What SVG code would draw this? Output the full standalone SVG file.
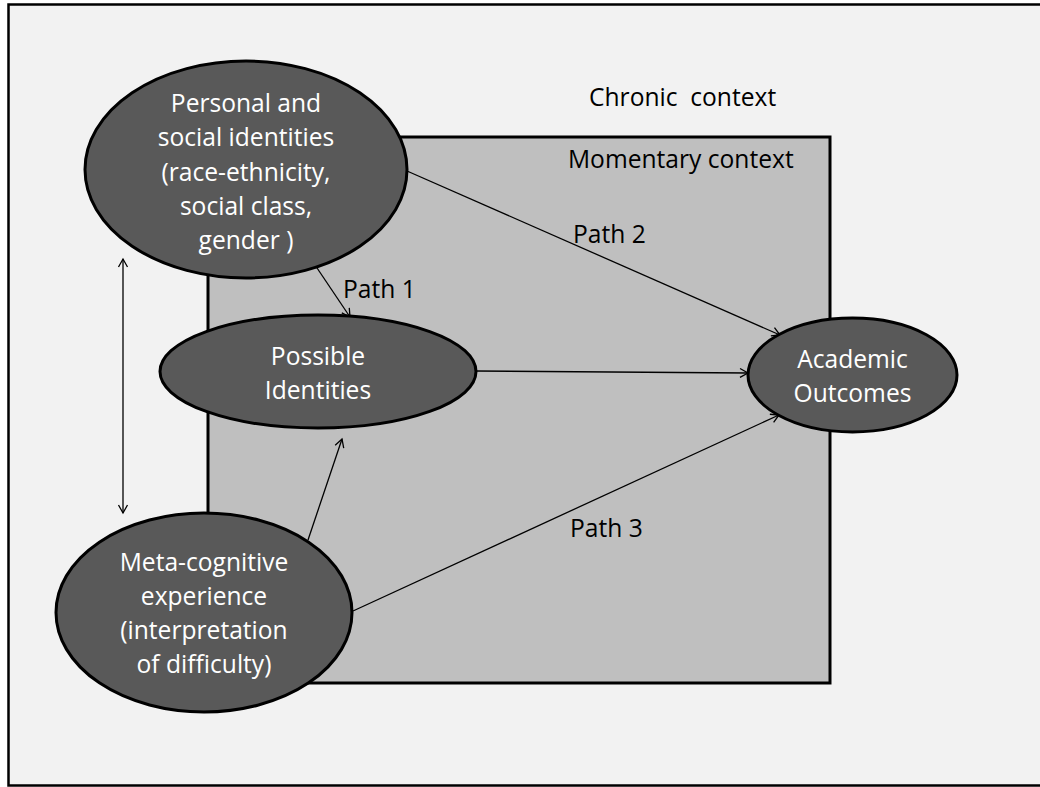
<svg xmlns="http://www.w3.org/2000/svg" width="1040" height="787" viewBox="0 0 1040 787">
  <defs>
    <marker id="arrow" viewBox="0 0 12 12" refX="10" refY="6" markerWidth="12" markerHeight="12" markerUnits="userSpaceOnUse" orient="auto-start-reverse">
      <path d="M2,1.5 L10,6 L2,10.5" fill="none" stroke="#000" stroke-width="1.3" stroke-linejoin="miter"/>
    </marker>
    <style>
      .label { font-family: "Open Sans", "Liberation Sans", sans-serif; font-size: 24.6px; fill: #000; }
      .node-shape { fill: #595959; stroke: #000; stroke-width: 3; }
      .node-text { font-family: "Open Sans", "Liberation Sans", sans-serif; font-size: 24.6px; fill: #fff; text-anchor: middle; }
      .edge { fill: none; stroke: #000; stroke-width: 1.3; marker-end: url(#arrow); }
    </style>
  </defs>

  <!-- page and outer (chronic) frame -->
  <rect x="0" y="0" width="1040" height="787" fill="#ffffff"/>
  <rect x="8.5" y="4.5" width="1040" height="781" fill="#f2f2f2" stroke="#000" stroke-width="2.5"/>
  <text class="label" x="589" y="106" xml:space="preserve">Chronic  context</text>

  <!-- momentary context box -->
  <rect id="momentary-context" x="208" y="137" width="622" height="546" fill="#bfbfbf" stroke="#000" stroke-width="3"/>
  <text class="label" x="568" y="168">Momentary context</text>

  <!-- connectors -->
  <g id="connectors">
    <line class="edge" x1="407" y1="171" x2="780" y2="335"/>
    <line class="edge" x1="313" y1="262" x2="350" y2="317"/>
    <line class="edge" x1="476" y1="371" x2="748" y2="373"/>
    <line class="edge" x1="308" y1="540" x2="342" y2="439"/>
    <line class="edge" x1="353" y1="611" x2="779" y2="415"/>
    <line class="edge" x1="123" y1="513" x2="123" y2="259" style="marker-start: url(#arrow);"/>
    <text class="label" x="573" y="243">Path 2</text>
    <text class="label" x="343" y="298">Path 1</text>
    <text class="label" x="570" y="537">Path 3</text>
  </g>

  <!-- nodes -->
  <g id="personal-social-identities">
    <ellipse class="node-shape" cx="246" cy="169.5" rx="161" ry="108.5"/>
    <text class="node-text" x="246" y="112">Personal and</text>
    <text class="node-text" x="246" y="146">social identities</text>
    <text class="node-text" x="246" y="180.5">(race-ethnicity,</text>
    <text class="node-text" x="246" y="214.5">social class,</text>
    <text class="node-text" x="246" y="249" xml:space="preserve">gender )</text>
  </g>

  <g id="possible-identities">
    <ellipse class="node-shape" cx="318" cy="371.5" rx="158" ry="56.5"/>
    <text class="node-text" x="318" y="365">Possible</text>
    <text class="node-text" x="318" y="399">Identities</text>
  </g>

  <g id="metacognitive-experience">
    <ellipse class="node-shape" cx="204" cy="612.5" rx="148" ry="99.5"/>
    <text class="node-text" x="204" y="571">Meta-cognitive</text>
    <text class="node-text" x="204" y="605">experience</text>
    <text class="node-text" x="204" y="639">(interpretation</text>
    <text class="node-text" x="204" y="673">of difficulty)</text>
  </g>

  <g id="academic-outcomes">
    <ellipse class="node-shape" cx="852.5" cy="375" rx="104.5" ry="57"/>
    <text class="node-text" x="852.5" y="368">Academic</text>
    <text class="node-text" x="852.5" y="402">Outcomes</text>
  </g>
</svg>
